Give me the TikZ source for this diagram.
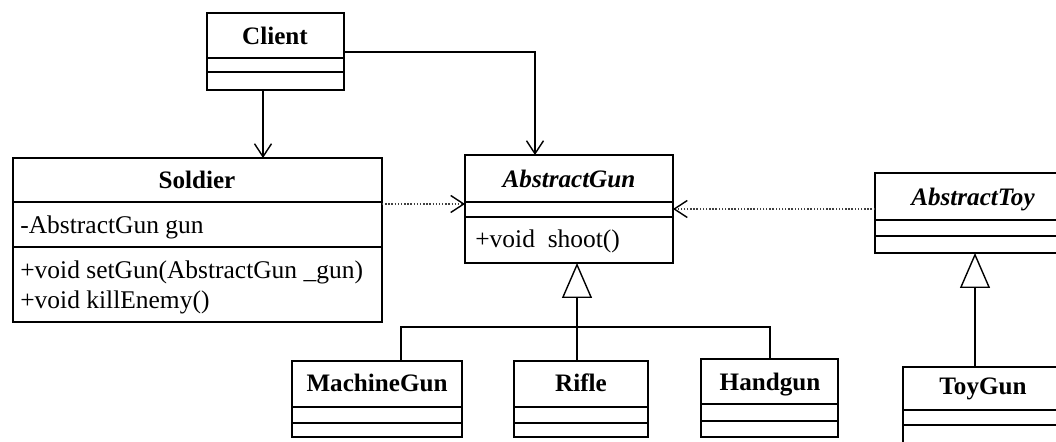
\documentclass[tikz,border=0pt]{standalone}
\usepackage{fontspec}
\setmainfont{Liberation Serif}
\usetikzlibrary{arrows.meta,fit}
\begin{document}
\begin{tikzpicture}[x=0.02cm,y=-0.02cm,
  box/.style={draw,line width=0.9pt,inner sep=0pt,outer sep=0pt},
  part/.style={line width=0.9pt},
  ttl/.style={font=\fontsize{14.3}{16}\selectfont\bfseries,inner sep=0pt,text height=9.5pt,text depth=0pt},
  ittl/.style={font=\fontsize{14.3}{16}\selectfont\bfseries\itshape,inner sep=0pt,text height=9.5pt,text depth=0pt},
  mem/.style={font=\fontsize{14.5}{16}\selectfont,inner sep=0pt,anchor=west,text height=9.5pt,text depth=0pt},
  assoc/.style={line width=0.8pt,-{Straight Barb[length=0.26cm,width=0.34cm,line width=0.8pt]}},
  dep/.style={line width=0.8pt,densely dotted,draw=black!75,-{Straight Barb[length=0.26cm,width=0.34cm,line width=0.8pt,black]}},
  inh/.style={line width=0.8pt,-{Triangle[open,length=0.7cm,width=0.6cm,line width=0.8pt,fill=white]}},
  bus/.style={line width=0.8pt}]
\useasboundingbox (0,0) rectangle (1056,442);
\clip (0,0) rectangle (1056,442);

% Client
\node[box,fit={(207,13) (344,90)}] (client) {};
\draw[part] (207,58) -- (344,58) (207,72) -- (344,72);
\node[ttl] (clientT) at (275,36) {Client};

% Soldier
\node[box,fit={(13,158) (382,322)}] (soldier) {};
\draw[part] (13,202) -- (382,202) (13,247) -- (382,247);
\node[ttl] (soldierT) at (197,180) {Soldier};
\node[mem] (soldierA) at (20,225) {-AbstractGun gun};
\node[mem] (soldierM1) at (20,270) {+void setGun(AbstractGun \_gun)};
\node[mem] (soldierM2) at (20,300) {+void killEnemy()};

% AbstractGun
\node[box,fit={(465,155) (673,263)}] (agun) {};
\draw[part] (465,202) -- (673,202) (465,217) -- (673,217);
\node[ittl] (agunT) at (569,179) {AbstractGun};
\node[mem] (agunM) at (475,239) {+void\ \ shoot()};

% AbstractToy
\node[box,fit={(875,173) (1072,253)}] (atoy) {};
\draw[part] (875,220) -- (1072,220) (875,236) -- (1072,236);
\node[ittl] (atoyT) at (973,197) {AbstractToy};

% MachineGun
\node[box,fit={(292,361) (462,437)}] (mgun) {};
\draw[part] (292,407) -- (462,407) (292,423) -- (462,423);
\node[ttl] (mgunT) at (377,383) {MachineGun};

% Rifle
\node[box,fit={(514,361) (648,437)}] (rifle) {};
\draw[part] (514,407) -- (648,407) (514,423) -- (648,423);
\node[ttl] (rifleT) at (581,383) {Rifle};

% Handgun
\node[box,fit={(701,359) (838,437)}] (hgun) {};
\draw[part] (701,404) -- (838,404) (701,421) -- (838,421);
\node[ttl] (hgunT) at (770,382) {Handgun};

% ToyGun
\node[box,fit={(903,367) (1064,470)}] (tgun) {};
\draw[part] (903,410) -- (1064,410) (903,425) -- (1064,425);
\node[ttl] (tgunT) at (983,386) {ToyGun};

% connectors
\coordinate (cs) at (263,0);
\draw[assoc] (client.south -| cs) -- (soldier.north -| cs);
\coordinate (cg) at (535,52);
\draw[assoc] (client.east |- cg) -- (cg) -- (agun.north -| cg);
\coordinate (ds) at (0,204);
\draw[dep] (soldier.east |- ds) -- (agun.west |- ds);
\coordinate (dt) at (0,209);
\draw[dep] (atoy.west |- dt) -- (agun.east |- dt);

\coordinate (ib) at (577,327);
\draw[inh] (rifle.north -| ib) -- (agun.south -| ib);
\coordinate (mx) at (401,0);
\coordinate (hx) at (770,0);
\draw[bus] (mgun.north -| mx) |- (ib) -| (hgun.north -| hx);
\coordinate (tx) at (975,0);
\draw[inh] (tgun.north -| tx) -- (atoy.south -| tx);
\end{tikzpicture}
\end{document}
